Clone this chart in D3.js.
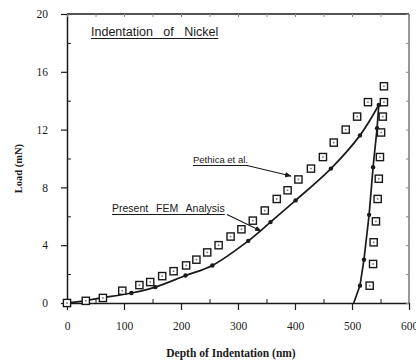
<!DOCTYPE html>
<html>
<head>
<meta charset="utf-8">
<script src="https://cdn.jsdelivr.net/npm/d3@7/dist/d3.min.js"></script>
<style>
  html, body { margin: 0; padding: 0; background: #fff; }
  svg { display: block; }
</style>
</head>
<body>
<svg id="chart" width="416" height="363"></svg>
<script>
// Experimental indentation data (Pethica et al.): depth in nm, load in mN
const pethicaLoading = [
  [0, 0], [33, 0.15], [63, 0.35], [97, 0.85], [127, 1.24], [146, 1.45],
  [167, 1.86], [187, 2.2], [209, 2.6], [227, 3.0], [246, 3.5], [266, 4.0],
  [287, 4.6], [306, 5.1], [326, 5.7], [347, 6.4], [368, 7.2], [387, 7.8],
  [406, 8.55], [428, 9.3], [449, 10.1], [468, 11.1], [489, 12.0],
  [509, 12.9], [528, 13.9], [556, 15.0]
];
const pethicaUnloading = [
  [556, 13.9], [554, 12.9], [551, 11.8], [549, 10.1], [547, 8.6],
  [545, 7.2], [542, 5.65], [538, 4.2], [537, 2.7], [531, 1.2]
];
// Finite element results: loading and unloading branches
const femLoading = [
  [0, 0], [30, 0.15], [60, 0.35], [113, 0.69], [155, 1.1], [208, 1.9],
  [255, 2.6], [318, 4.3], [357, 5.6], [401, 7.1], [463, 9.3], [514, 11.6],
  [547, 13.7]
];
const femUnloading = [
  [547, 13.7], [544, 12.1], [537, 9.4], [530, 6.1], [521, 3.0], [514, 1.2],
  [503, 0]
];
const xTicks = [0, 100, 200, 300, 400, 500, 600];
const xMinorTicks = [50, 150, 250, 350, 450, 550];
const yTicks = [0, 4, 8, 12, 16, 20];
const yMinorTicks = [2, 6, 10, 14, 18];

const ink = "#1a1a1a";
const svg = d3.select("#chart");

const x = d3.scaleLinear().domain([0, 600]).range([67, 409]);
const y = d3.scaleLinear().domain([0, 20]).range([303, 14]);

// Frame: top and right borders
svg.append("line").attr("x1", x(0)).attr("x2", x(600)).attr("y1", y(20)).attr("y2", y(20))
  .attr("stroke", ink).attr("stroke-width", 1.3);
svg.append("line").attr("x1", x(600)).attr("x2", x(600)).attr("y1", y(20)).attr("y2", y(0))
  .attr("stroke", "#555").attr("stroke-width", 1.2);

// Bottom axis
const xAxis = svg.append("g").attr("transform", `translate(0,${y(0)})`)
  .call(d3.axisBottom(x).tickValues(xTicks).tickSize(7).tickSizeOuter(0).tickPadding(12));
xAxis.select(".domain").attr("stroke", ink).attr("stroke-width", 1.5);
xAxis.selectAll(".tick line").attr("stroke", ink).attr("stroke-width", 1.2);
xAxis.selectAll(".tick text")
  .attr("font-family", "'Liberation Serif', 'Times New Roman', serif")
  .attr("font-size", 11.5).attr("fill", ink);
svg.append("g").attr("transform", `translate(0,${y(0)})`)
  .call(d3.axisTop(x).tickValues(xMinorTicks).tickSize(4).tickFormat(""))
  .call(g => g.select(".domain").remove())
  .selectAll("line").attr("stroke", ink).attr("stroke-width", 1);

// Left axis
const yAxis = svg.append("g").attr("transform", `translate(${x(0)},0)`)
  .call(d3.axisLeft(y).tickValues(yTicks).tickSize(6).tickSizeOuter(0).tickPadding(13));
yAxis.select(".domain").attr("stroke", ink).attr("stroke-width", 1.5);
yAxis.selectAll(".tick line").attr("stroke", ink).attr("stroke-width", 1.2);
yAxis.selectAll(".tick text")
  .attr("font-family", "'Liberation Serif', 'Times New Roman', serif")
  .attr("font-size", 11.5).attr("fill", ink);
svg.append("g").attr("transform", `translate(${x(0)},0)`)
  .call(d3.axisRight(y).tickValues(yMinorTicks).tickSize(4).tickFormat(""))
  .call(g => g.select(".domain").remove())
  .selectAll("line").attr("stroke", ink).attr("stroke-width", 1);

// Faint ticks along top and right borders
svg.append("g").attr("transform", `translate(0,${y(20)})`)
  .call(d3.axisBottom(x).tickValues(xTicks.concat(xMinorTicks)).tickSize(3).tickFormat(""))
  .call(g => g.select(".domain").remove())
  .selectAll("line").attr("stroke", "#888").attr("stroke-width", 1);
svg.append("g").attr("transform", `translate(${x(600)},0)`)
  .call(d3.axisLeft(y).tickValues(yTicks.concat(yMinorTicks)).tickSize(3).tickFormat(""))
  .call(g => g.select(".domain").remove())
  .selectAll("line").attr("stroke", "#888").attr("stroke-width", 1);

// Axis titles
svg.append("text")
  .attr("x", (x(0) + x(600)) / 2 - 7).attr("y", 357)
  .attr("text-anchor", "middle")
  .attr("font-family", "'Liberation Serif', 'Times New Roman', serif")
  .attr("font-weight", "bold").attr("font-size", 11.5).attr("fill", ink)
  .text("Depth of Indentation (nm)");
svg.append("text")
  .attr("transform", `translate(22,${y(9.3)}) rotate(-90)`)
  .attr("text-anchor", "middle")
  .attr("font-family", "'Liberation Serif', 'Times New Roman', serif")
  .attr("font-weight", "bold").attr("font-size", 10.5).attr("fill", ink)
  .text("Load (mN)");

// FEM curves
const line = d3.line().x(d => x(d[0])).y(d => y(d[1]));
svg.append("path").datum(femLoading)
  .attr("d", line.curve(d3.curveCatmullRom.alpha(0.5)))
  .attr("fill", "none").attr("stroke", ink).attr("stroke-width", 1.7);
svg.append("path").datum(femUnloading)
  .attr("d", d3.line().x(d => x(d[0])).y(d => y(d[1])).curve(d3.curveLinear))
  .attr("fill", "none").attr("stroke", ink).attr("stroke-width", 1.7);
svg.append("g").selectAll("circle")
  .data(femLoading.slice(1).concat(femUnloading.slice(1, -1)))
  .join("circle")
  .attr("cx", d => x(d[0])).attr("cy", d => y(d[1])).attr("r", 2.2)
  .attr("fill", ink);

// Experimental square markers
const pethica = pethicaLoading.concat(pethicaUnloading);
const marks = svg.append("g").selectAll("g").data(pethica).join("g")
  .attr("transform", d => `translate(${x(d[0])},${y(d[1])})`);
marks.append("rect").attr("x", -3.6).attr("y", -3.6).attr("width", 7.2).attr("height", 7.2)
  .attr("fill", "#fff").attr("stroke", ink).attr("stroke-width", 1.4);
marks.append("rect").attr("x", -0.8).attr("y", -0.8).attr("width", 1.6).attr("height", 1.6)
  .attr("fill", "#777");

// Title and annotations (underlined, with wide word gaps)
const sans = "'Liberation Sans', Arial, sans-serif";
function underlinedLabel(text, x0, base, size, wordGap) {
  const t = svg.append("text").attr("x", x0).attr("y", base)
    .attr("font-family", sans).attr("font-size", size).attr("fill", ink)
    .attr("word-spacing", wordGap)
    .text(text);
  const w = t.node().getComputedTextLength();
  svg.append("line").attr("x1", x0).attr("x2", x0 + w)
    .attr("y1", base + 2.5).attr("y2", base + 2.5)
    .attr("stroke", ink).attr("stroke-width", 1);
  return w;
}
underlinedLabel("Indentation of Nickel", 91, 36, 12.5, 7);
underlinedLabel("Pethica et al.", 193, 163, 9.5, 0);
underlinedLabel("Present FEM Analysis", 112, 212, 10.5, 5);

svg.append("defs").append("marker")
  .attr("id", "head").attr("viewBox", "0 0 10 10")
  .attr("refX", 9).attr("refY", 5)
  .attr("markerWidth", 6).attr("markerHeight", 6)
  .attr("orient", "auto")
  .append("path").attr("d", "M0,1 L10,5 L0,9 Z").attr("fill", ink);

svg.append("line").attr("x1", 247).attr("y1", 165.5).attr("x2", 291).attr("y2", 176)
  .attr("stroke", ink).attr("stroke-width", 1.1).attr("marker-end", "url(#head)");
svg.append("line").attr("x1", 227).attr("y1", 214.5).attr("x2", 261).attr("y2", 231)
  .attr("stroke", ink).attr("stroke-width", 1.1).attr("marker-end", "url(#head)");
</script>
</body>
</html>
